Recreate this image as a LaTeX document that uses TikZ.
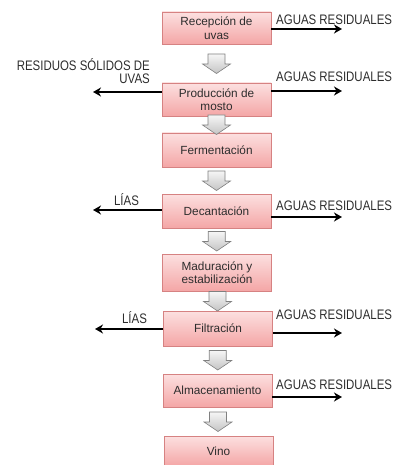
\documentclass[tikz,border=0pt]{standalone}
\usepackage{fontspec}
\setmainfont{Liberation Sans}
\newfontfamily\labfont[FakeStretch=0.83]{Liberation Sans}
\usetikzlibrary{calc,arrows.meta}
\definecolor{boxtop}{RGB}{252,224,224}
\definecolor{boxbot}{RGB}{244,166,166}
\definecolor{boxline}{RGB}{214,130,130}
\definecolor{arrtop}{RGB}{246,246,246}
\definecolor{arrbot}{RGB}{196,196,196}
\definecolor{arrline}{RGB}{128,128,128}
\definecolor{txt}{RGB}{45,45,45}
\begin{document}
\begin{tikzpicture}[x=1pt,y=-1pt,
  stepbox/.style={draw=boxline, line width=0.8pt, top color=boxtop, bottom color=boxbot,
    minimum width=109pt, inner sep=1pt, align=center,
    font=\fontsize{11.8}{13.5}\selectfont, text=txt},
  lab/.style={font=\labfont\fontsize{13.8}{13}\selectfont, text=txt, inner sep=0pt},
  side/.style={line width=1.6pt, -{Stealth[length=8pt,width=9pt,inset=2.5pt]}},
  dnarrow/.pic={\draw[arrline, line width=0.6pt, top color=arrtop, bottom color=arrbot]
    (-8.5,-9.5) -- (8.5,-9.5) -- (8.5,0.5) -- (14,0.5) -- (0,10) -- (-14,0.5) -- (-8.5,0.5) -- cycle;}]
\useasboundingbox (0,0) rectangle (399,465);

\node[stepbox, minimum height=32pt] (b1) at (216.5,28) {Recepción de\\uvas};
\node[stepbox, minimum height=33pt] (b2) at (216.5,99.5) {Producción de\\mosto};
\node[stepbox, minimum height=34pt] (b3) at (216.5,150) {Fermentación};
\node[stepbox, minimum height=34pt] (b4) at (216.5,211) {Decantación};
\node[stepbox, minimum height=37pt] (b5) at (217,272.5) {Maduración y\\estabilización};
\node[stepbox, minimum height=35pt] (b6) at (218,328.5) {Filtración};
\node[stepbox, minimum height=33pt] (b7) at (217.5,390.5) {Almacenamiento};
\node[stepbox, minimum height=30pt] (b8) at (218.5,451) {Vino};

\foreach \a/\b in {b1/b2,b2/b3,b3/b4,b4/b5,b5/b6,b6/b7,b7/b8}
  \pic at ($(\a.south)!0.5!(\b.north)$) {dnarrow};

% right outputs
\coordinate (r1) at (342,29);
\coordinate (r2) at (342,91);
\coordinate (r4) at (342,217);
\coordinate (r6) at (342,333);
\coordinate (r7) at (342,397);
\draw[side] (b1.east |- r1) -- (r1);
\draw[side] (b2.east |- r2) -- (r2);
\draw[side] (b4.east |- r4) -- (r4);
\draw[side] (b6.east |- r6) -- (r6);
\draw[side] (b7.east |- r7) -- (r7);
\node[lab, anchor=west] (t1) at (276,20) {AGUAS RESIDUALES};
\node[lab, anchor=west] (t2) at (276,77) {AGUAS RESIDUALES};
\node[lab, anchor=west] (t4) at (276,206) {AGUAS RESIDUALES};
\node[lab, anchor=west] (t6) at (276,315) {AGUAS RESIDUALES};
\node[lab, anchor=west] (t7) at (276,385) {AGUAS RESIDUALES};

% left outputs
\coordinate (l2) at (93,92);
\coordinate (l4) at (93,210);
\coordinate (l6) at (95,329);
\draw[side] (b2.west |- l2) -- (l2);
\draw[side] (b4.west |- l4) -- (l4);
\draw[side] (b6.west |- l6) -- (l6);
\node[lab, anchor=east, align=right] (s2) at (150,71.5) {RESIDUOS SÓLIDOS DE\\UVAS};
\node[lab] (s4) at (126.5,200) {LÍAS};
\node[lab] (s6) at (134.5,318) {LÍAS};
\end{tikzpicture}
\end{document}
